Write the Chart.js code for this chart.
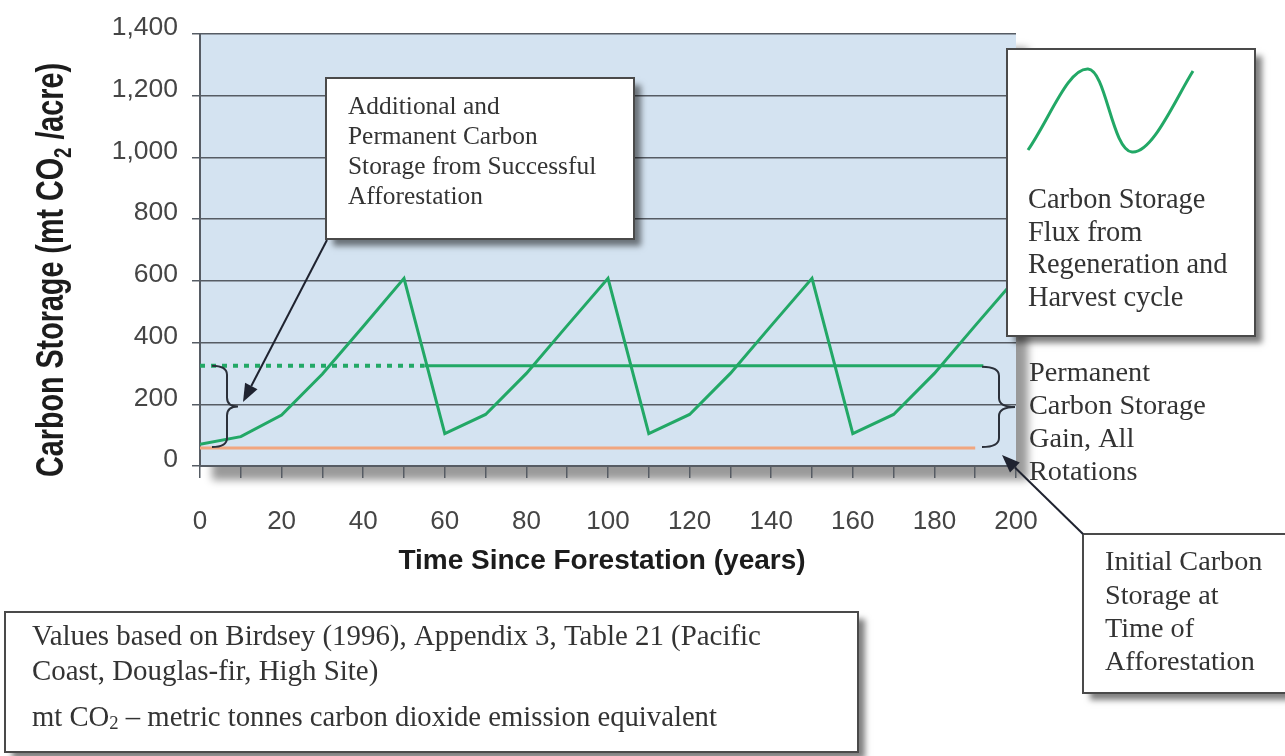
<!DOCTYPE html>
<html>
<head>
<meta charset="utf-8">
<script src="https://cdn.jsdelivr.net/npm/chart.js@4.4.1/dist/chart.umd.min.js"></script>
<style>
  html, body { margin: 0; padding: 0; background: #fff; }
  #chart { display: block; }
</style>
</head>
<body>
<canvas id="chart" width="1285" height="756"></canvas>
<script>
// carbon storage over the rotation cycles, one vertex every 10 years
const years = [0, 10, 20, 30, 40, 50, 60, 70, 80, 90, 100, 110, 120, 130, 140, 150, 160, 170, 180, 190, 200];
const storage = [70, 95, 165, 298, 452, 608, 105, 167, 300, 455, 608, 105, 167, 300, 455, 608, 105, 167, 300, 455, 608];

// permanent gain level (dotted part, then solid) and initial storage level
const permanentLevel = 325;
const dottedYears = [0, 55];
const solidYears = [55, 192];
const initialLevel = 58;
const initialYears = [0, 190];

const xTickYears = [0, 10, 20, 30, 40, 50, 60, 70, 80, 90, 100, 110, 120, 130, 140, 150, 160, 170, 180, 190, 200];
const xTickLabels = ['0', '', '20', '', '40', '', '60', '', '80', '', '100', '', '120', '', '140', '', '160', '', '180', '', '200'];
const yTickLabels = ['0', '200', '400', '600', '800', '1,000', '1,200', '1,400'];

const GREEN = '#22a866';
const ORANGE = '#f1a67f';
const GRID = '#565c64';
const SERIF = '"Liberation Serif", "Times New Roman", serif';
const SANS = '"Liberation Sans", Arial, sans-serif';

const flat = (span, level) => span.map(x => ({ x, y: level }));

// text with optional subscript parts: ['mt CO', {sub: '2'}, ' ...']
function richWidth(ctx, parts, size, weight, family) {
  let w = 0;
  parts.forEach(p => {
    const sub = typeof p !== 'string';
    ctx.font = `${weight} ${sub ? size * 0.65 : size}px ${family}`;
    w += ctx.measureText(sub ? p.sub : p).width;
  });
  return w;
}
function drawRich(ctx, parts, x, y, size, weight, family) {
  parts.forEach(p => {
    const sub = typeof p !== 'string';
    ctx.font = `${weight} ${sub ? size * 0.65 : size}px ${family}`;
    const t = sub ? p.sub : p;
    ctx.fillText(t, x, sub ? y + size * 0.2 : y);
    x += ctx.measureText(t).width;
  });
}

function lines(ctx, rows, x, y0, step, size) {
  ctx.save();
  ctx.fillStyle = '#333';
  ctx.textBaseline = 'middle';
  ctx.textAlign = 'left';
  rows.forEach((r, i) => {
    const parts = typeof r === 'string' ? [r] : r;
    drawRich(ctx, parts, x, y0 + i * step, size, 'normal', SERIF);
  });
  ctx.restore();
}

function box(ctx, x, y, w, h) {
  ctx.save();
  ctx.shadowColor = 'rgba(0,0,0,0.5)';
  ctx.shadowBlur = 6;
  ctx.shadowOffsetX = 7;
  ctx.shadowOffsetY = 7;
  ctx.fillStyle = '#fff';
  ctx.fillRect(x, y, w, h);
  ctx.restore();
  ctx.save();
  ctx.strokeStyle = '#4a4a4a';
  ctx.lineWidth = 2;
  ctx.strokeRect(x, y, w, h);
  ctx.restore();
}

function arrow(ctx, x1, y1, x2, y2) {
  const a = Math.atan2(y2 - y1, x2 - x1);
  const L = 18, W = 7;
  const bx = x2 - L * Math.cos(a), by = y2 - L * Math.sin(a);
  ctx.save();
  ctx.strokeStyle = '#1f2330';
  ctx.fillStyle = '#1f2330';
  ctx.lineWidth = 2;
  ctx.beginPath();
  ctx.moveTo(x1, y1);
  ctx.lineTo(bx, by);
  ctx.stroke();
  ctx.beginPath();
  ctx.moveTo(x2, y2);
  ctx.lineTo(bx + W * Math.sin(a), by - W * Math.cos(a));
  ctx.lineTo(bx - W * Math.sin(a), by + W * Math.cos(a));
  ctx.closePath();
  ctx.fill();
  ctx.restore();
}

function brace(ctx, xTip, xSpine, xPoint, yTop, yBot) {
  const yMid = (yTop + yBot) / 2, r = 9;
  ctx.save();
  ctx.strokeStyle = '#2b303a';
  ctx.lineWidth = 2;
  ctx.beginPath();
  ctx.moveTo(xTip, yTop);
  ctx.quadraticCurveTo(xSpine, yTop, xSpine, yTop + r);
  ctx.lineTo(xSpine, yMid - r);
  ctx.quadraticCurveTo(xSpine, yMid, xPoint, yMid);
  ctx.quadraticCurveTo(xSpine, yMid, xSpine, yMid + r);
  ctx.lineTo(xSpine, yBot - r);
  ctx.quadraticCurveTo(xSpine, yBot, xTip, yBot);
  ctx.stroke();
  ctx.restore();
}

const plotBackground = {
  id: 'plotBackground',
  beforeDraw(chart) {
    const { ctx, chartArea: a } = chart;
    ctx.save();
    ctx.fillStyle = '#fff';
    ctx.fillRect(0, 0, chart.width, chart.height);
    ctx.shadowColor = 'rgba(0,0,0,0.4)';
    ctx.shadowBlur = 8;
    ctx.shadowOffsetX = 12;
    ctx.shadowOffsetY = 14;
    ctx.fillStyle = '#d4e3f1';
    ctx.fillRect(a.left, a.top, a.right - a.left, a.bottom - a.top);
    ctx.restore();
  }
};

const annotations = {
  id: 'annotations',
  afterDraw(chart) {
    const { ctx } = chart;
    const y = chart.scales.y;
    const yTop = y.getPixelForValue(permanentLevel);
    const yBot = y.getPixelForValue(initialLevel) - 1;

    brace(ctx, 212, 227, 238, yTop, yBot);
    brace(ctx, 982, 999, 1015, yTop + 1, yBot);

    // additional storage box
    box(ctx, 326, 78, 308, 161);
    lines(ctx, ['Additional and', 'Permanent Carbon', 'Storage from Successful', 'Afforestation'], 348, 107, 30, 25.4);
    arrow(ctx, 327, 240, 243, 402);

    // legend box
    box(ctx, 1007, 49, 248, 287);
    ctx.save();
    ctx.strokeStyle = GREEN;
    ctx.lineWidth = 3;
    ctx.beginPath();
    ctx.moveTo(1028, 150);
    ctx.bezierCurveTo(1050, 118, 1068, 68, 1088, 69);
    ctx.bezierCurveTo(1106, 70, 1112, 150, 1132, 152);
    ctx.bezierCurveTo(1152, 154, 1175, 100, 1193, 71);
    ctx.stroke();
    ctx.restore();
    lines(ctx, ['Carbon Storage', 'Flux from', 'Regeneration and', 'Harvest cycle'], 1028, 201, 32.5, 28.4);

    lines(ctx, ['Permanent', 'Carbon Storage', 'Gain, All', 'Rotations'], 1029, 374, 32.7, 28.3);

    // initial storage box
    box(ctx, 1083, 534, 220, 159);
    lines(ctx, ['Initial Carbon', 'Storage at', 'Time of', 'Afforestation'], 1105, 563, 33.3, 28.2);
    arrow(ctx, 1083, 534, 1002, 455);

    // source note
    box(ctx, 5, 612, 853, 140);
    lines(ctx, ['Values based on Birdsey (1996), Appendix 3, Table 21 (Pacific', 'Coast, Douglas-fir, High Site)'], 32, 637, 35, 28.9);
    lines(ctx, [['mt CO', { sub: '2' }, ' \u2013 metric tonnes carbon dioxide emission equivalent']], 32, 718, 0, 28.7);

    // axis titles
    ctx.save();
    ctx.fillStyle = '#1c1c1c';
    ctx.textAlign = 'center';
    ctx.textBaseline = 'alphabetic';
    ctx.font = `bold 28px ${SANS}`;
    ctx.fillText('Time Since Forestation (years)', 602, 569);
    ctx.restore();

    ctx.save();
    ctx.fillStyle = '#1c1c1c';
    ctx.textAlign = 'left';
    ctx.textBaseline = 'alphabetic';
    const parts = ['Carbon Storage (mt CO', { sub: '2' }, ' /acre)'];
    const w = richWidth(ctx, parts, 38, 'bold', SANS);
    ctx.translate(63, 270);
    ctx.rotate(-Math.PI / 2);
    ctx.scale(414 / w, 1);
    drawRich(ctx, parts, -w / 2, 0, 38, 'bold', SANS);
    ctx.restore();
  }
};

new Chart(document.getElementById('chart'), {
  type: 'line',
  data: {
    datasets: [
      {
        label: 'Initial',
        data: flat(initialYears, initialLevel),
        borderColor: ORANGE,
        borderWidth: 3
      },
      {
        label: 'Permanent (dotted)',
        data: flat(dottedYears, permanentLevel),
        borderColor: GREEN,
        borderWidth: 4,
        borderDash: [5, 6]
      },
      {
        label: 'Permanent',
        data: flat(solidYears, permanentLevel),
        borderColor: GREEN,
        borderWidth: 3
      },
      {
        label: 'Carbon Storage Flux',
        data: years.map((x, i) => ({ x, y: storage[i] })),
        borderColor: GREEN,
        borderWidth: 3
      }
    ]
  },
  options: {
    responsive: false,
    animation: false,
    layout: { padding: { left: 0, top: 34, right: 269, bottom: 0 } },
    elements: { point: { radius: 0 }, line: { tension: 0 } },
    plugins: { legend: { display: false }, tooltip: { enabled: false } },
    scales: {
      x: {
        type: 'linear',
        min: 0,
        max: 200,
        afterFit(s) { s.height = 290; },
        afterBuildTicks(s) { s.ticks = xTickYears.map(v => ({ value: v })); },
        ticks: {
          autoSkip: false,
          maxRotation: 0,
          padding: 28,
          color: '#454545',
          font: { family: SANS, size: 26 },
          callback: (v, i) => xTickLabels[i]
        },
        grid: { drawOnChartArea: false, tickLength: 12, color: GRID, lineWidth: 1.5 },
        border: { display: true, color: GRID, width: 2 }
      },
      y: {
        min: 0,
        max: 1400,
        afterFit(s) { s.width = 200; },
        ticks: {
          stepSize: 200,
          padding: 14,
          labelOffset: -6,
          color: '#454545',
          font: { family: SANS, size: 26.5 },
          callback: (v, i) => yTickLabels[i]
        },
        grid: { color: GRID, lineWidth: 1.5, tickLength: 8 },
        border: { display: true, color: GRID, width: 2 }
      }
    }
  },
  plugins: [plotBackground, annotations]
});
</script>
</body>
</html>
